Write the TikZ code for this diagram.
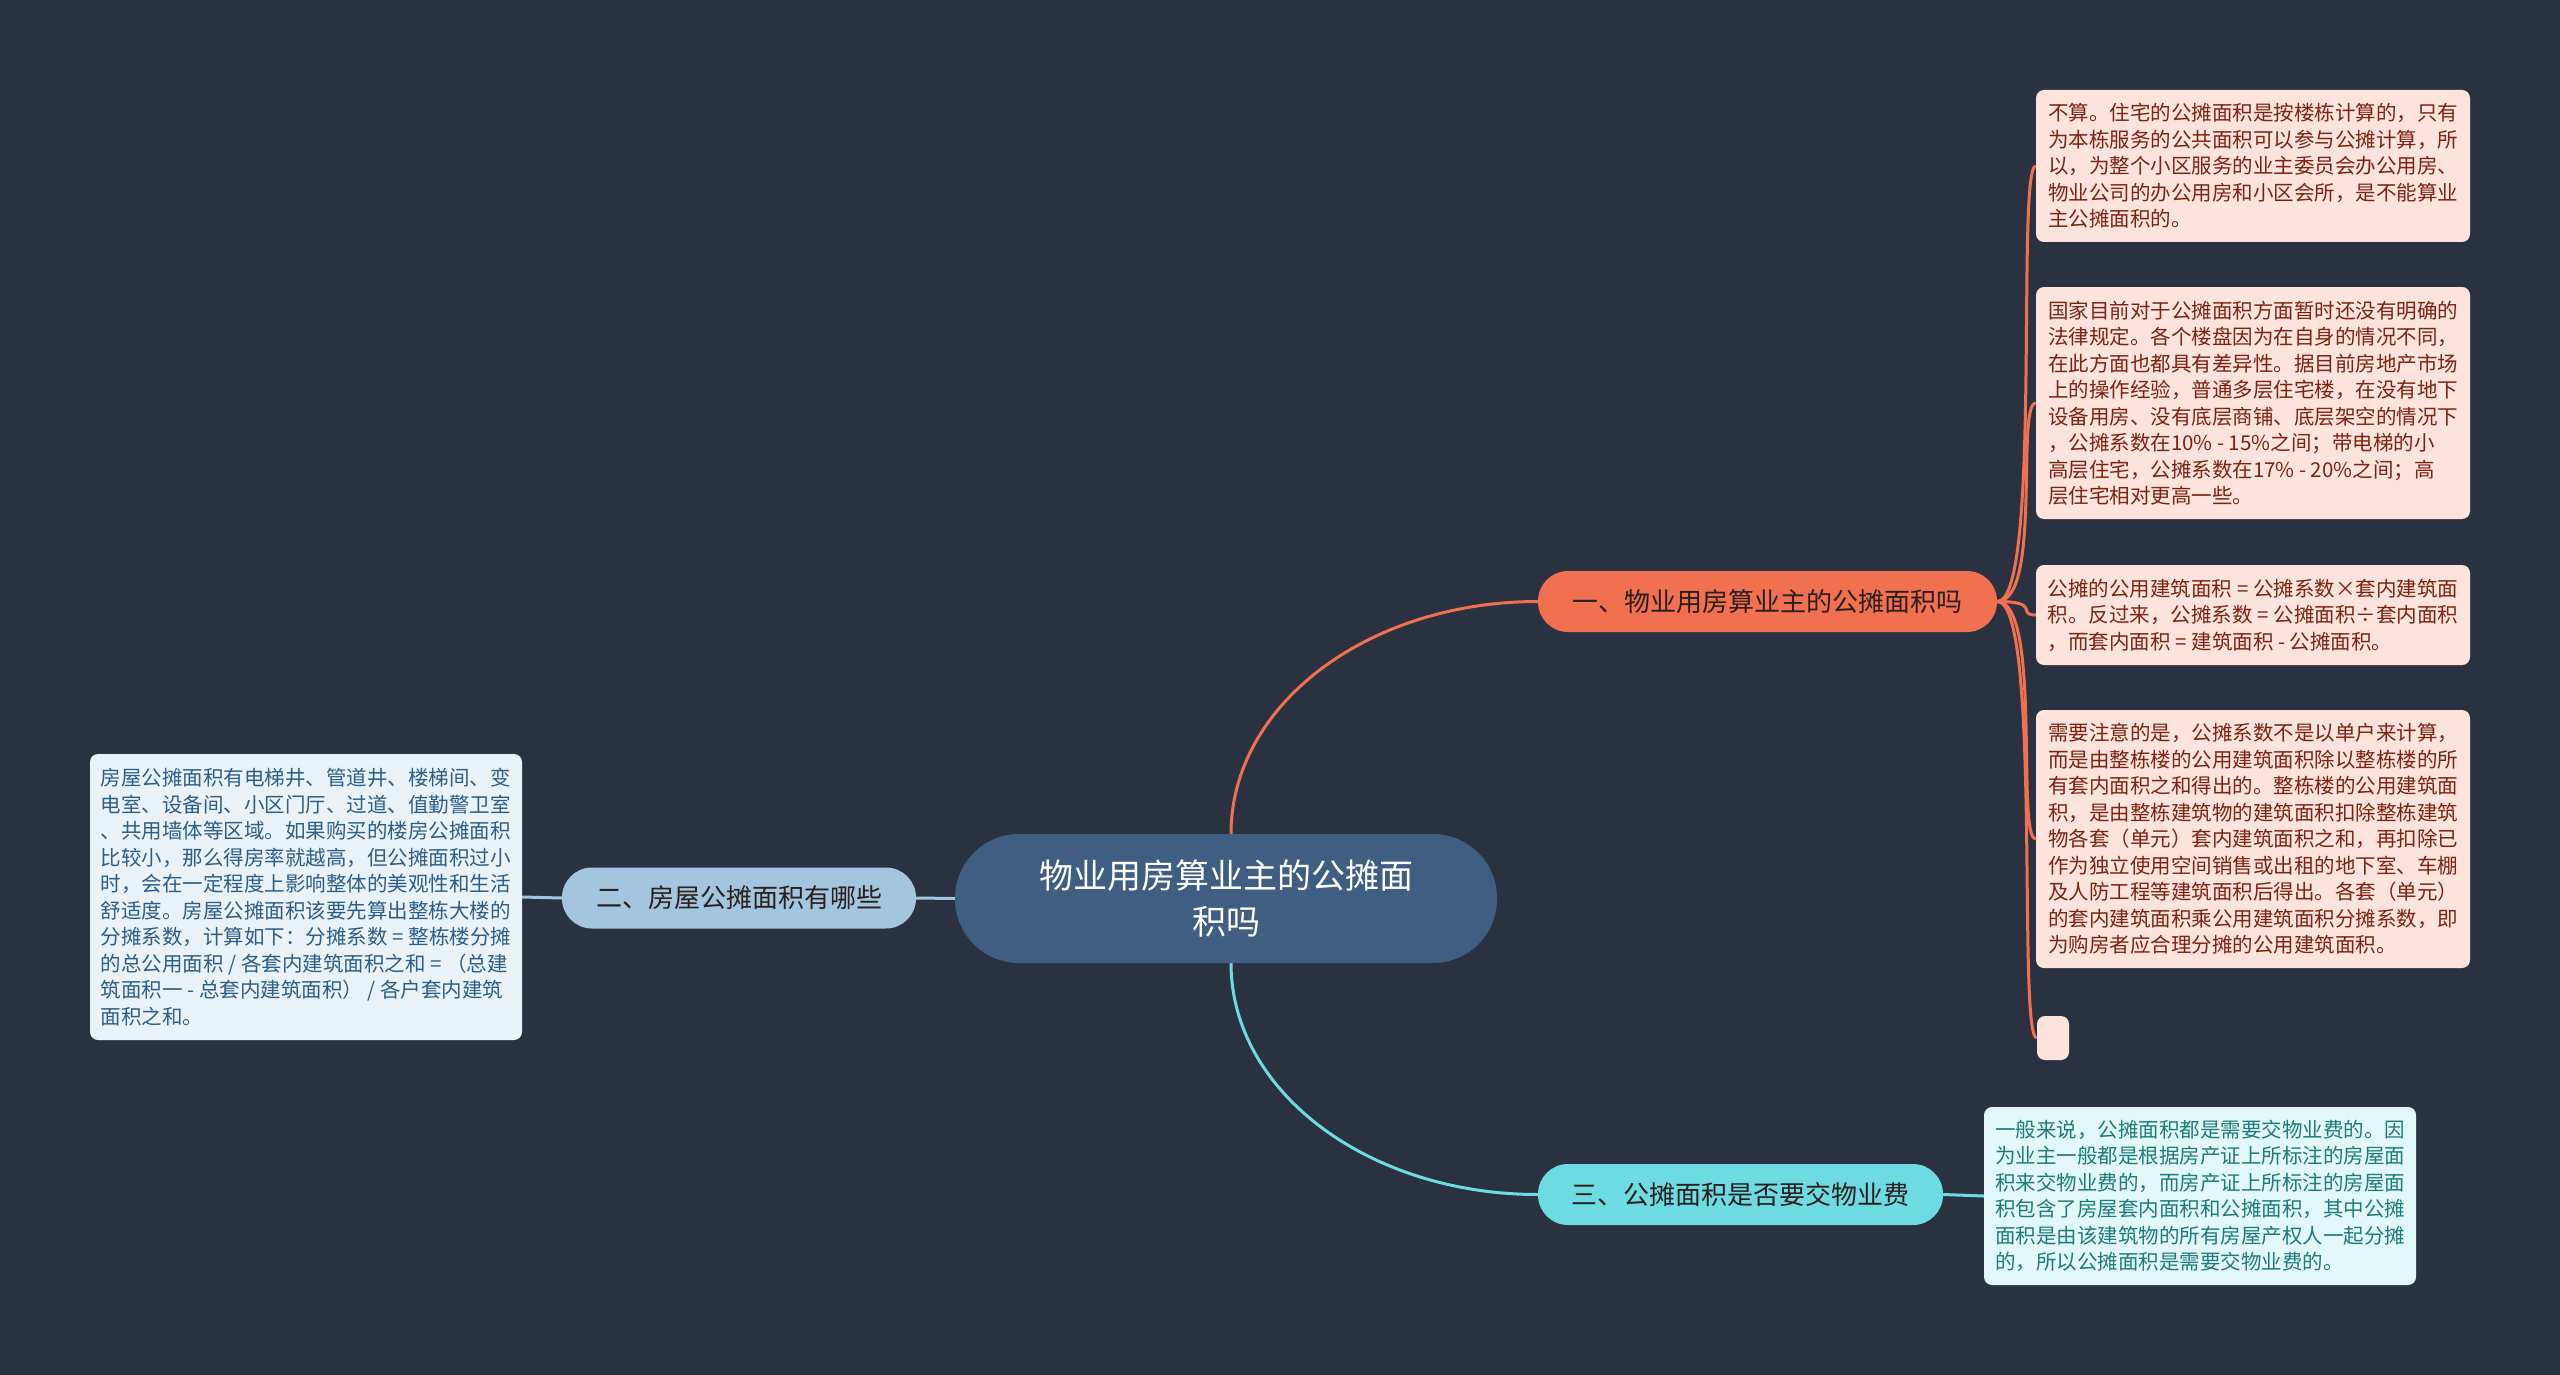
\documentclass[tikz,border=0pt]{standalone}
\usepackage{fontspec}
\setmainfont{Noto Sans CJK SC}
\usetikzlibrary{positioning}
\pgfdeclarelayer{background}
\pgfdeclarelayer{bgfill}
\pgfsetlayers{bgfill,background,main}
\definecolor{bgcol}{HTML}{2A3241}
\definecolor{centercol}{HTML}{405D82}
\definecolor{orangecol}{HTML}{F0704F}
\definecolor{bluecol}{HTML}{A3C6DE}
\definecolor{cyancol}{HTML}{6DDCE2}
\definecolor{pinkfill}{HTML}{FCE3DC}
\definecolor{pinktext}{HTML}{7B2413}
\definecolor{lbfill}{HTML}{E9F2F8}
\definecolor{lbtext}{HTML}{2E5E86}
\definecolor{cyfill}{HTML}{E2F8F8}
\definecolor{cytext}{HTML}{1E7B7B}
\definecolor{branchtext}{HTML}{2A1E1E}
\tikzset{
  centerbox/.style={fill=centercol, text=white, rounded corners=64pt, minimum width=542pt, minimum height=129pt, align=center, font=\fontsize{34}{46}\selectfont, inner sep=0pt},
  branchbox/.style={rounded corners=30pt, minimum height=61pt, inner sep=0pt, text=branchtext, font=\fontsize{26}{32}\selectfont},
  leafbox/.style={rounded corners=8pt, align=left, inner sep=0pt, font=\fontsize{20.5}{26.5}\selectfont, minimum width=434pt},
  pinkleaf/.style={leafbox, fill=pinkfill, text=pinktext},
  conn/.style={line width=3pt},
}
\begin{document}
\begin{tikzpicture}[x=1pt, y=-1pt]
\begin{pgfonlayer}{bgfill}
\fill[bgcol] (0,0) rectangle (2560,1375);
\end{pgfonlayer}
\useasboundingbox (0,0) rectangle (2560,1375);

\node[centerbox] (c) at (1226,898.5) {物业用房算业主的公摊面\\积吗};

\node[branchbox, fill=orangecol, minimum width=459pt] (b1) at (1767.5,601.5) {一、物业用房算业主的公摊面积吗};
\node[branchbox, fill=bluecol, minimum width=354pt] (b2) at (739,898) {二、房屋公摊面积有哪些};
\node[branchbox, fill=cyancol, minimum width=405pt] (b3) at (1740.5,1194.5) {三、公摊面积是否要交物业费};

\node[pinkleaf, minimum height=152pt] (la) at (2253,166) {不算。住宅的公摊面积是按楼栋计算的，只有\\为本栋服务的公共面积可以参与公摊计算，所\\以，为整个小区服务的业主委员会办公用房、\\物业公司的办公用房和小区会所，是不能算业\\主公摊面积的。};

\node[pinkleaf, minimum height=232pt] (lb) at (2253,403) {国家目前对于公摊面积方面暂时还没有明确的\\法律规定。各个楼盘因为在自身的情况不同，\\在此方面也都具有差异性。据目前房地产市场\\上的操作经验，普通多层住宅楼，在没有地下\\设备用房、没有底层商铺、底层架空的情况下\\，公摊系数在10\% - 15\%之间；带电梯的小\\高层住宅，公摊系数在17\% - 20\%之间；高\\层住宅相对更高一些。};

\node[pinkleaf, minimum height=100pt] (lc) at (2253,615) {公摊的公用建筑面积 = 公摊系数×套内建筑面\\积。反过来，公摊系数 = 公摊面积÷套内面积\\，而套内面积 = 建筑面积 - 公摊面积。};

\node[pinkleaf, minimum height=258pt] (ld) at (2253,839) {需要注意的是，公摊系数不是以单户来计算，\\而是由整栋楼的公用建筑面积除以整栋楼的所\\有套内面积之和得出的。整栋楼的公用建筑面\\积，是由整栋建筑物的建筑面积扣除整栋建筑\\物各套（单元）套内建筑面积之和，再扣除已\\作为独立使用空间销售或出租的地下室、车棚\\及人防工程等建筑面积后得出。各套（单元）\\的套内建筑面积乘公用建筑面积分摊系数，即\\为购房者应合理分摊的公用建筑面积。};

\node[fill=pinkfill, rounded corners=8pt, minimum width=32pt, minimum height=44pt, inner sep=0pt] (le) at (2053,1038) {};

\node[leafbox, fill=lbfill, text=lbtext, minimum width=432pt, minimum height=286pt] (l2) at (306,897) {房屋公摊面积有电梯井、管道井、楼梯间、变\\电室、设备间、小区门厅、过道、值勤警卫室\\、共用墙体等区域。如果购买的楼房公摊面积\\比较小，那么得房率就越高，但公摊面积过小\\时，会在一定程度上影响整体的美观性和生活\\舒适度。房屋公摊面积该要先算出整栋大楼的\\分摊系数，计算如下：分摊系数 = 整栋楼分摊\\的总公用面积 / 各套内建筑面积之和 = （总建\\筑面积一 - 总套内建筑面积） / 各户套内建筑\\面积之和。};

\node[leafbox, fill=cyfill, text=cytext, minimum width=432pt, minimum height=178pt] (l3) at (2200,1196) {一般来说，公摊面积都是需要交物业费的。因\\为业主一般都是根据房产证上所标注的房屋面\\积来交物业费的，而房产证上所标注的房屋面\\积包含了房屋套内面积和公摊面积，其中公摊\\面积是由该建筑物的所有房屋产权人一起分摊\\的，所以公摊面积是需要交物业费的。};

\begin{pgfonlayer}{background}
\draw[conn, orangecol] ([xshift=5pt]c.north) .. controls +(0,-129) and +(-170,0) .. (b1.west);
\draw[conn, cyancol] ([xshift=5pt]c.south) .. controls +(0,128) and +(-170,0) .. (b3.west);
\draw[conn, bluecol] (c.west) -- (b2.east);
\draw[conn, bluecol] (b2.west) -- (l2.east);
\draw[conn, cyancol] (b3.east) -- (l3.west);
\foreach \leaf in {la,lb,lc,ld,le}{
  \draw[conn, orangecol] (b1.east) .. controls +(45,0) and +(-20,0) .. (\leaf.west);
}
\end{pgfonlayer}
\end{tikzpicture}
\end{document}
